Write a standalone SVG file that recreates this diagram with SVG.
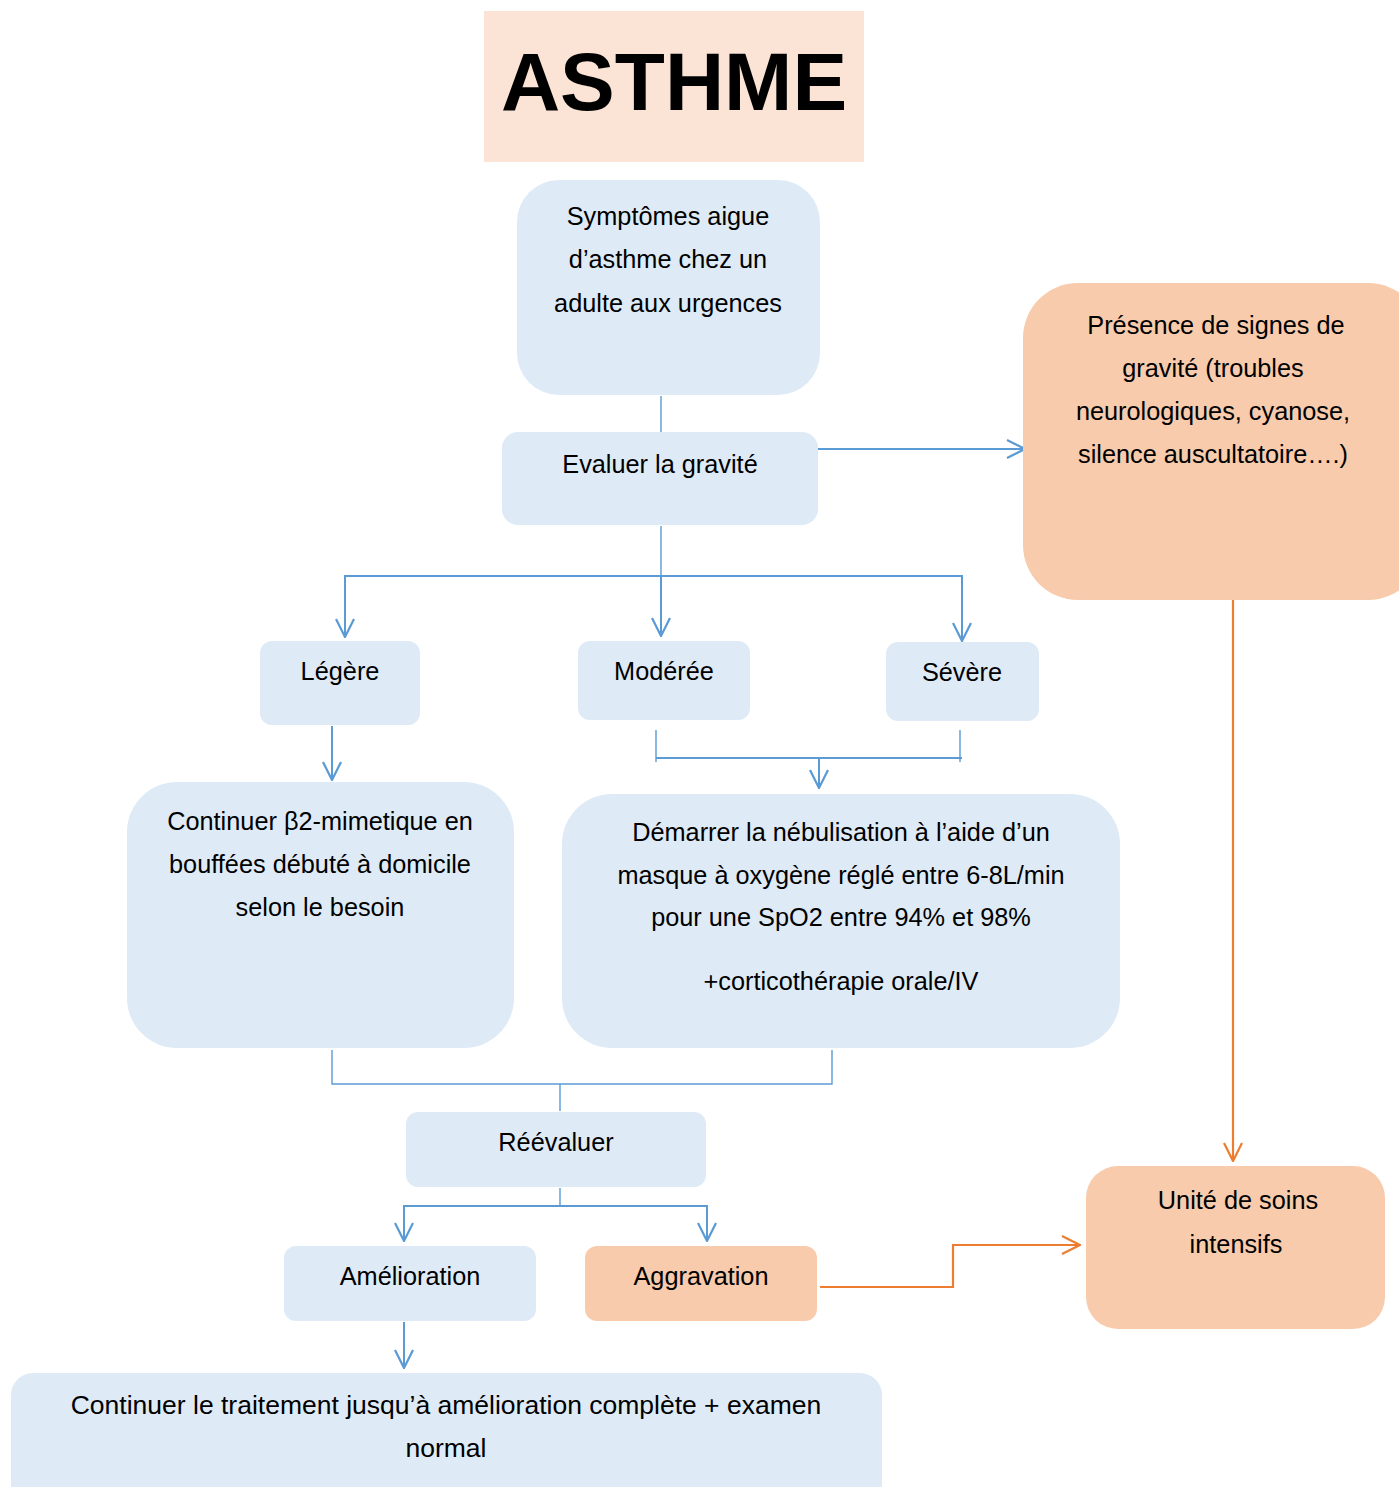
<svg xmlns="http://www.w3.org/2000/svg" width="1399" height="1487" viewBox="0 0 1399 1487">
<style>
.blue{fill:#DEEAF6;}
.peach{fill:#F7CBAC;}
.title{fill:#FBE3D6;}
text{font-family:"Liberation Sans",Arial,sans-serif;font-size:25.3px;fill:#000;text-anchor:middle;}
.big{font-size:82px;font-weight:bold;}
.wide{font-size:26.5px;}
.cb{stroke:#5B9BD5;stroke-width:2;fill:none;}
.cbt{stroke:#5B9BD5;stroke-width:1.4;fill:none;}
.co{stroke:#ED7D31;stroke-width:2.2;fill:none;}
</style>
<defs>
<marker id="ab" viewBox="0 0 20 20" refX="19" refY="10" markerWidth="20" markerHeight="20" markerUnits="userSpaceOnUse" orient="auto">
<path d="M1,1 L19,10 L1,19" fill="none" stroke="#5B9BD5" stroke-width="2.2"/>
</marker>
<marker id="ao" viewBox="0 0 20 20" refX="19" refY="10" markerWidth="20" markerHeight="20" markerUnits="userSpaceOnUse" orient="auto">
<path d="M1,1 L19,10 L1,19" fill="none" stroke="#ED7D31" stroke-width="2.2"/>
</marker>
</defs>
<rect width="1399" height="1487" fill="#fff"/>
<g id="title">
<rect class="title" x="484" y="11" width="380" height="151"/>
<text class="big" x="674" y="110">ASTHME</text>
</g>
<g id="connectors">
<line class="cbt" x1="661" y1="396" x2="661" y2="432"/>
<line class="cb" x1="818" y1="449" x2="1025" y2="449" marker-end="url(#ab)"/>
<line class="cbt" x1="661" y1="526" x2="661" y2="576"/>
<line class="cb" x1="661" y1="576" x2="661" y2="636" marker-end="url(#ab)"/>
<polyline class="cb" points="345,637 345,576 962,576 962,641" marker-end="url(#ab)"/>
<line class="cb" x1="345" y1="580" x2="345" y2="637" marker-end="url(#ab)"/>
<line class="cb" x1="332" y1="726" x2="332" y2="780" marker-end="url(#ab)"/>
<polyline class="cbt" points="656,730 656,762"/>
<polyline class="cbt" points="960,730 960,762"/>
<line class="cb" x1="656" y1="758" x2="962" y2="758"/>
<line class="cb" x1="819" y1="758" x2="819" y2="788" marker-end="url(#ab)"/>
<polyline class="cbt" points="332,1050 332,1084 832,1084 832,1050"/>
<line class="cbt" x1="560" y1="1084" x2="560" y2="1111"/>
<line class="cbt" x1="560" y1="1188" x2="560" y2="1206"/>
<polyline class="cb" points="404,1241 404,1206 707,1206 707,1241" marker-end="url(#ab)"/>
<line class="cb" x1="404" y1="1210" x2="404" y2="1241" marker-end="url(#ab)"/>
<line class="cb" x1="404" y1="1322" x2="404" y2="1368" marker-end="url(#ab)"/>
<polyline class="co" points="820,1287 953,1287 953,1245 1080,1245" marker-end="url(#ao)"/>
<line class="co" x1="1233" y1="600" x2="1233" y2="1161" marker-end="url(#ao)"/>
</g>
<g id="symptomes">
<rect class="blue" x="517" y="180" width="303" height="215" rx="42"/>
<text x="668" y="225">Symptômes aigue</text>
<text x="668" y="268">d’asthme chez un</text>
<text x="668" y="312">adulte aux urgences</text>
</g>
<g id="evaluer">
<rect class="blue" x="502" y="432" width="316" height="93" rx="16"/>
<text x="660" y="473">Evaluer la gravité</text>
</g>
<g id="presence">
<rect class="peach" x="1023" y="283" width="400" height="317" rx="55"/>
<text x="1216" y="334">Présence de signes de</text>
<text x="1213" y="377">gravité (troubles</text>
<text x="1213" y="420">neurologiques, cyanose,</text>
<text x="1213" y="463">silence auscultatoire….)</text>
</g>
<g id="legere">
<rect class="blue" x="260" y="641" width="160" height="84" rx="12"/>
<text x="340" y="680">Légère</text>
</g>
<g id="moderee">
<rect class="blue" x="578" y="641" width="172" height="79" rx="12"/>
<text x="664" y="680">Modérée</text>
</g>
<g id="severe">
<rect class="blue" x="886" y="642" width="153" height="79" rx="12"/>
<text x="962" y="681">Sévère</text>
</g>
<g id="continuer-b2">
<rect class="blue" x="127" y="782" width="387" height="266" rx="50"/>
<text x="320" y="830">Continuer β2-mimetique en</text>
<text x="320" y="873">bouffées débuté à domicile</text>
<text x="320" y="916">selon le besoin</text>
</g>
<g id="demarrer">
<rect class="blue" x="562" y="794" width="558" height="254" rx="50"/>
<text x="841" y="841">Démarrer la nébulisation à l’aide d’un</text>
<text x="841" y="884">masque à oxygène réglé entre 6-8L/min</text>
<text x="841" y="926">pour une SpO2 entre 94% et 98%</text>
<text x="841" y="990">+corticothérapie orale/IV</text>
</g>
<g id="reevaluer">
<rect class="blue" x="406" y="1112" width="300" height="75" rx="12"/>
<text x="556" y="1151">Réévaluer</text>
</g>
<g id="amelioration">
<rect class="blue" x="284" y="1246" width="252" height="75" rx="12"/>
<text x="410" y="1285">Amélioration</text>
</g>
<g id="aggravation">
<rect class="peach" x="585" y="1246" width="232" height="75" rx="12"/>
<text x="701" y="1285">Aggravation</text>
</g>
<g id="usi">
<rect class="peach" x="1086" y="1166" width="299" height="163" rx="32"/>
<text x="1238" y="1209">Unité de soins</text>
<text x="1236" y="1253">intensifs</text>
</g>
<g id="continuer-traitement">
<rect class="blue" x="11" y="1373" width="871" height="140" rx="22"/>
<text class="wide" x="446" y="1414">Continuer le traitement jusqu’à amélioration complète + examen</text>
<text class="wide" x="446" y="1457">normal</text>
</g>
</svg>
